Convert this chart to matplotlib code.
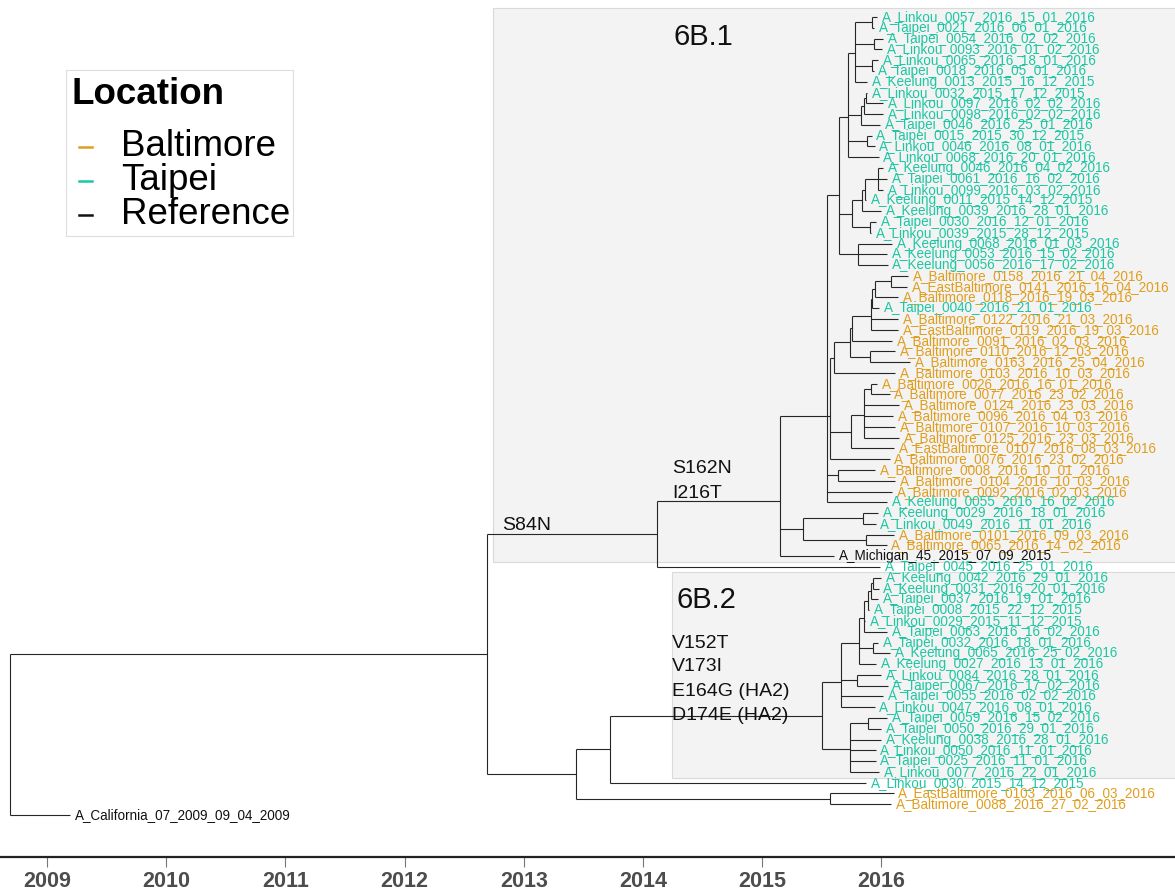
import datetime as dt
import matplotlib
matplotlib.use("Agg")
import matplotlib.pyplot as plt
from matplotlib.collections import LineCollection
from matplotlib.patches import Rectangle
from matplotlib.lines import Line2D

plt.rcParams['font.family'] = ['Liberation Sans', 'DejaVu Sans']

# tip labels, top to bottom
tips = [
    "A_Linkou_0057_2016_15_01_2016", "A_Taipei_0021_2016_06_01_2016",
    "A_Taipei_0054_2016_02_02_2016", "A_Linkou_0093_2016_01_02_2016",
    "A_Linkou_0065_2016_18_01_2016", "A_Taipei_0018_2016_05_01_2016",
    "A_Keelung_0013_2015_16_12_2015", "A_Linkou_0032_2015_17_12_2015",
    "A_Linkou_0097_2016_02_02_2016", "A_Linkou_0098_2016_02_02_2016",
    "A_Taipei_0046_2016_25_01_2016", "A_Taipei_0015_2015_30_12_2015",
    "A_Linkou_0046_2016_08_01_2016", "A_Linkou_0068_2016_20_01_2016",
    "A_Keelung_0046_2016_04_02_2016", "A_Taipei_0061_2016_16_02_2016",
    "A_Linkou_0099_2016_03_02_2016", "A_Keelung_0011_2015_14_12_2015",
    "A_Keelung_0039_2016_28_01_2016", "A_Taipei_0030_2016_12_01_2016",
    "A_Linkou_0039_2015_28_12_2015", "A_Keelung_0068_2016_01_03_2016",
    "A_Keelung_0053_2016_15_02_2016", "A_Keelung_0056_2016_17_02_2016",
    "A_Baltimore_0158_2016_21_04_2016", "A_EastBaltimore_0141_2016_16_04_2016",
    "A_Baltimore_0118_2016_19_03_2016", "A_Taipei_0040_2016_21_01_2016",
    "A_Baltimore_0122_2016_21_03_2016", "A_EastBaltimore_0119_2016_19_03_2016",
    "A_Baltimore_0091_2016_02_03_2016", "A_Baltimore_0110_2016_12_03_2016",
    "A_Baltimore_0163_2016_25_04_2016", "A_Baltimore_0103_2016_10_03_2016",
    "A_Baltimore_0026_2016_16_01_2016", "A_Baltimore_0077_2016_23_02_2016",
    "A_Baltimore_0124_2016_23_03_2016", "A_Baltimore_0096_2016_04_03_2016",
    "A_Baltimore_0107_2016_10_03_2016", "A_Baltimore_0125_2016_23_03_2016",
    "A_EastBaltimore_0107_2016_08_03_2016", "A_Baltimore_0076_2016_23_02_2016",
    "A_Baltimore_0008_2016_10_01_2016", "A_Baltimore_0104_2016_10_03_2016",
    "A_Baltimore_0092_2016_02_03_2016", "A_Keelung_0055_2016_16_02_2016",
    "A_Keelung_0029_2016_18_01_2016", "A_Linkou_0049_2016_11_01_2016",
    "A_Baltimore_0101_2016_09_03_2016", "A_Baltimore_0065_2016_14_02_2016",
    "A_Michigan_45_2015_07_09_2015", "A_Taipei_0045_2016_25_01_2016",
    "A_Keelung_0042_2016_29_01_2016", "A_Keelung_0031_2016_20_01_2016",
    "A_Taipei_0037_2016_19_01_2016", "A_Taipei_0008_2015_22_12_2015",
    "A_Linkou_0029_2015_11_12_2015", "A_Taipei_0063_2016_16_02_2016",
    "A_Taipei_0032_2016_18_01_2016", "A_Keelung_0065_2016_25_02_2016",
    "A_Keelung_0027_2016_13_01_2016", "A_Linkou_0084_2016_28_01_2016",
    "A_Taipei_0067_2016_17_02_2016", "A_Taipei_0055_2016_02_02_2016",
    "A_Linkou_0047_2016_08_01_2016", "A_Taipei_0059_2016_15_02_2016",
    "A_Taipei_0050_2016_29_01_2016", "A_Keelung_0038_2016_28_01_2016",
    "A_Linkou_0050_2016_11_01_2016", "A_Taipei_0025_2016_11_01_2016",
    "A_Linkou_0077_2016_22_01_2016", "A_Linkou_0030_2015_14_12_2015",
    "A_EastBaltimore_0103_2016_06_03_2016", "A_Baltimore_0088_2016_27_02_2016",
    "A_California_07_2009_09_04_2009",
]

# topology: numbers are tip indices (1-based), labels after ')' are node dates
clade_6b1 = ("((((((1,2)2016.00,(3,4)2016.014,(5,6)2016.00,7)2015.855,"
             "(((8,9)2015.95,10)2015.93,11)2015.905,(12,13)2015.955,14)2015.796,"
             "((((15,16,17)2016.047,18)2015.94,19)2015.913,(20,21)2015.98)2015.83,"
             "(22,23,24)2015.88)2015.72,"
             "((((((((25,26)2016.16,27)2016.02,28)2016.00,29,30)2015.99,31)2015.83,"
             "(32,33)2015.98)2015.813,34)2015.678,"
             "(((35,36)2015.989,37,38,39,40)2015.93,41)2015.82,42)2015.645,"
             "(43,44)2015.712,45,46)2015.619,"
             "((47,48)2015.922,(49,50)2015.947)2015.418,51)2015.225")
clade_6b2 = ("(((((((53,54)2016.005,55)2015.99,56)2015.96,57,58)2015.93,"
             "(59,60)2016.005,61)2015.888,(62,63)2015.872,64,65)2015.737,"
             "((66,67)2015.964,68,69,70,71)2015.813)2015.577")
newick = ("(((" + clade_6b1 + ",52)2014.193,((" + clade_6b2 + ",72)2013.798,"
          "(73,74)2015.645)2013.513)2012.766,75)2008.763")

years = [2009, 2010, 2011, 2012, 2013, 2014, 2015, 2016]
axis_shift = 0.075

loc_colors = {"Baltimore": "#E09E1E", "Taipei": "#1EC6A3", "Reference": "#111111"}


def location(name):
    if "Baltimore" in name:
        return "Baltimore"
    if "Michigan" in name or "California" in name:
        return "Reference"
    return "Taipei"


def decimal_date(name):
    d, m, y = [int(p) for p in name.split("_")[-3:]]
    day = dt.date(y, m, d)
    n = (dt.date(y + 1, 1, 1) - dt.date(y, 1, 1)).days
    return y + (day - dt.date(y, 1, 1)).days / n


def parse(s, i=0):
    if s[i] == "(":
        kids = []
        i += 1
        while True:
            c, i = parse(s, i)
            kids.append(c)
            if s[i] == ",":
                i += 1
            else:
                i += 1
                break
        j = i
        while j < len(s) and s[j] not in ",)":
            j += 1
        return {"x": float(s[i:j]), "kids": kids}, j
    j = i
    while s[j] not in ",)":
        j += 1
    k = int(s[i:j])
    name = tips[k - 1]
    return {"x": decimal_date(name), "kids": [], "tip": k}, j


root, _ = parse(newick)
ntip = len(tips)


def layout(node):
    if not node["kids"]:
        node["y"] = ntip + 1 - node["tip"]
    else:
        for c in node["kids"]:
            layout(c)
        node["y"] = sum(c["y"] for c in node["kids"]) / len(node["kids"])


layout(root)

segs = []


def collect(node):
    if node["kids"]:
        ys = [c["y"] for c in node["kids"]]
        segs.append([(node["x"], min(ys)), (node["x"], max(ys))])
        for c in node["kids"]:
            segs.append([(node["x"], c["y"]), (c["x"], c["y"])])
            collect(c)
    else:
        nm = tips[node["tip"] - 1]
        ax.text(node["x"] + 0.04, node["y"], nm, va="center", ha="left",
                fontsize=9.75, color=loc_colors[location(nm)])


fig = plt.figure(figsize=(11.75, 8.92), dpi=100)
ax = fig.add_axes([0, 35 / 892, 1, 857 / 892])

ax.set_xlim(2008.679, 2018.54)
ax.set_ylim(-2.89, 76.58)

# clade highlight boxes
ax.add_patch(Rectangle((2012.82, 24.46), 6.0, 51.37, facecolor="#F3F3F3",
                       edgecolor="#DADADA", lw=0.8, zorder=0))
ax.add_patch(Rectangle((2014.318, 4.43), 5.0, 19.1, facecolor="#F3F3F3",
                       edgecolor="#DADADA", lw=0.8, zorder=0))

collect(root)
ax.add_collection(LineCollection(segs, colors="#262626", linewidths=0.8, zorder=2))

# clade and mutation labels
ax.text(2014.33, 73.15, "6B.1", fontsize=21, va="center", color="#111111")
ax.text(2014.36, 20.94, "6B.2", fontsize=21, va="center", color="#111111")
ax.text(2012.895, 27.89, "S84N", fontsize=14, va="center", color="#111111")
for t, yy in zip(["S162N", "I216T"], [33.09, 30.86]):
    ax.text(2014.32, yy, t, fontsize=14, va="center", color="#111111")
for t, yy in zip(["V152T", "V173I", "E164G (HA2)", "D174E (HA2)"],
                 [16.95, 14.73, 12.50, 10.27]):
    ax.text(2014.32, yy, t, fontsize=14, va="center", color="#111111")

# time axis
for s in ["left", "top", "right"]:
    ax.spines[s].set_visible(False)
ax.spines["bottom"].set_linewidth(1.6)
ax.spines["bottom"].set_color("#222222")
ax.set_yticks([])
ax.set_xticks([y + axis_shift for y in years])
ax.set_xticklabels([str(y) for y in years])
ax.tick_params(axis="x", length=7, width=0.8, color="#777777", pad=3,
               labelsize=15.5, labelcolor="#4D4D4D")
for lab in ax.get_xticklabels():
    lab.set_fontweight("bold")
ax.set_facecolor("none")


# legend
def fx(px):
    return px / 1175


def fy(py):
    return 1 - py / 892


fig.patches.append(Rectangle((fx(66), fy(236)), fx(293) - fx(66), fy(70) - fy(236),
                             transform=fig.transFigure, facecolor="white",
                             edgecolor="#DDDDDD", lw=0.8, zorder=5))
fig.text(fx(71), fy(94), "Location", fontsize=26.5, fontweight="bold",
         va="center", ha="left", zorder=6)
for name, py in zip(["Baltimore", "Taipei", "Reference"], [147, 181, 215]):
    fig.lines.append(Line2D([fx(79), fx(92)], [fy(py), fy(py)],
                            transform=fig.transFigure, color=loc_colors[name],
                            lw=1.8, zorder=6))
    fig.text(fx(121), fy(py), name, fontsize=26.5, va="center", ha="left", zorder=6)

fig.savefig("out.png", dpi=100)
